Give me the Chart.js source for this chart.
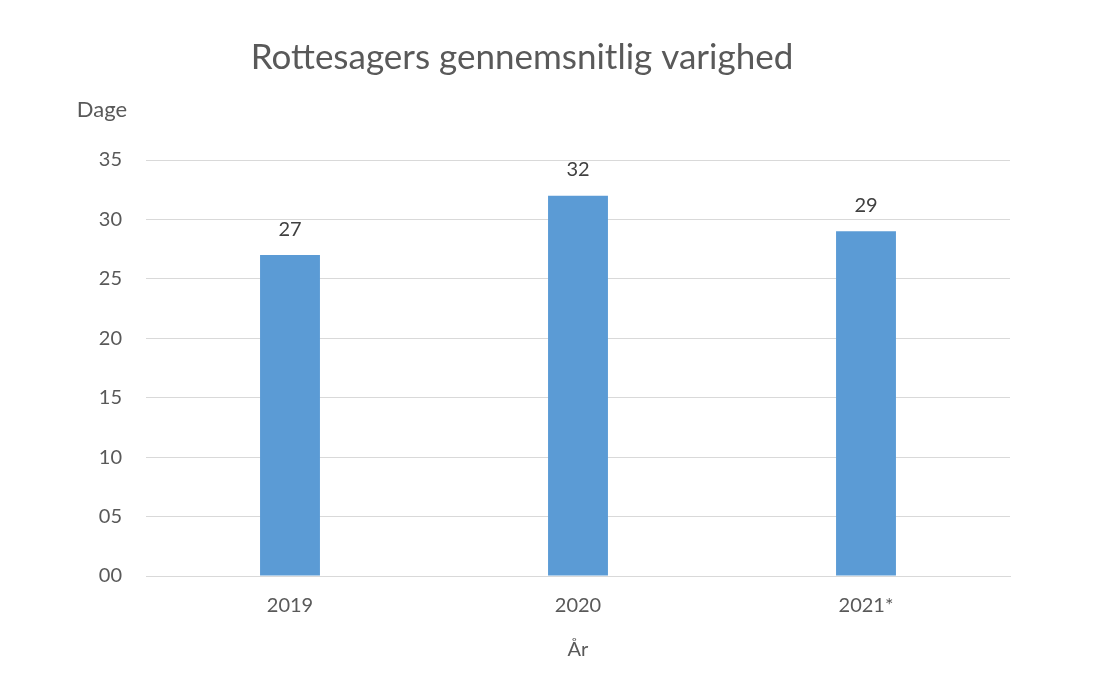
<!DOCTYPE html>
<html><head><meta charset="utf-8">
<script src="https://cdn.jsdelivr.net/npm/chart.js@4/dist/chart.umd.min.js"></script>
<style>html,body{margin:0;padding:0;background:#fff}#wrap{width:1113px;height:673px}</style>
</head><body><div id="wrap"><canvas id="c" width="1113" height="673"></canvas></div>
<script>
const categories = ["2019", "2020", "2021*"];
const values = [27, 32, 29];
const yTicks = [0, 5, 10, 15, 20, 25, 30, 35];
const chartTitle = "Rottesagers gennemsnitlig varighed";
const yAxisTitle = "Dage";
const xAxisTitle = "År";

const FONT = "Lato";
const grey = "#595959";

const extras = {
  id: "extras",
  afterDatasetsDraw(chart) {
    const ctx = chart.ctx;
    const meta = chart.getDatasetMeta(0);
    ctx.save();
    ctx.font = "20px " + FONT;
    ctx.fillStyle = "#404040";
    ctx.textAlign = "center";
    ctx.textBaseline = "middle";
    meta.data.forEach((bar, i) => {
      ctx.fillText(String(values[i]), bar.x, bar.y - 26);
    });
    ctx.fillStyle = grey;
    ctx.font = "22px " + FONT;
    ctx.fillText(yAxisTitle, 102, 110);
    ctx.restore();
  }
};

new Chart(document.getElementById("c"), {
  type: "bar",
  data: {
    labels: categories,
    datasets: [{
      data: values,
      backgroundColor: "#5B9BD5",
      borderWidth: 0,
      categoryPercentage: 1,
      barPercentage: 0.208
    }]
  },
  options: {
    responsive: false,
    animation: false,
    layout: { padding: { left: 34, right: 103, top: 0, bottom: 0 } },
    plugins: {
      legend: { display: false },
      tooltip: { enabled: false },
      title: {
        display: true,
        text: chartTitle,
        color: grey,
        font: { family: FONT, size: 35, weight: "normal" },
        padding: { top: 37, bottom: 81 }
      }
    },
    scales: {
      y: {
        min: 0, max: 35,
        afterBuildTicks(scale) { scale.ticks = yTicks.map(v => ({ value: v })); },
        afterFit(scale) { scale.width = 112; },
        border: { display: false },
        grid: { color: "#d9d9d9", lineWidth: 1, drawTicks: false },
        ticks: {
          color: grey,
          font: { family: FONT, size: 20 },
          padding: 24,
          callback: v => String(v).padStart(2, "0")
        }
      },
      x: {
        afterFit(scale) { scale.height = 97; },
        border: { display: true, color: "#d9d9d9" },
        grid: { display: false, drawTicks: false },
        ticks: { color: grey, font: { family: FONT, size: 20 }, padding: 18 },
        title: {
          display: true, text: xAxisTitle, color: grey,
          font: { family: FONT, size: 20 },
          padding: { top: 10, bottom: 11 }
        }
      }
    }
  },
  plugins: [extras]
});
</script></body></html>
